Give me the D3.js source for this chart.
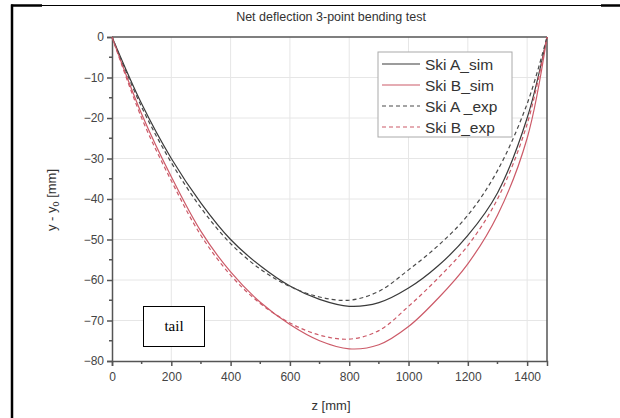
<!DOCTYPE html>
<html><head><meta charset="utf-8">
<script src="https://cdn.jsdelivr.net/npm/d3@7"></script>
<style>
html,body{margin:0;padding:0;background:#fff;}
svg{display:block;font-family:"Liberation Sans",Arial,sans-serif;}
</style></head>
<body>
<svg id="chart" width="620" height="418"></svg>
<script>
// ---- data ----
const zValues   = [0,100,200,300,400,500,600,700,800,900,1000,1100,1200,1300,1400,1467];
const skiA_sim  = [0,-16.5,-30,-41,-50,-56.5,-61.5,-64.8,-66.5,-65.6,-62,-56.5,-49,-38.5,-20,0];
const skiB_sim  = [0,-19,-34.5,-48,-58,-65.5,-71,-75,-77,-76,-71.5,-64.5,-56,-44,-25,0];
const skiA_exp  = [0,-17.3,-31,-42.2,-51,-57.3,-61.6,-64.2,-65,-62.8,-57.5,-51.5,-44,-33,-16.5,0];
const skiB_exp  = [0,-20,-35.5,-49,-58.8,-65.8,-70.6,-73.6,-74.6,-72.5,-66.5,-59.5,-51.5,-40,-21.5,0];
const seriesNames = ["Ski A_sim","Ski B_sim","Ski A _exp","Ski B_exp"];
const xTicks = [0,200,400,600,800,1000,1200,1400];
const yTicks = [0,-10,-20,-30,-40,-50,-60,-70,-80];
const title = "Net deflection 3-point bending test";
const annotation = "tail";

const series = [
  {name: seriesNames[0], values: skiA_sim, color: "#3a3a3a", dash: null},
  {name: seriesNames[1], values: skiB_sim, color: "#cc5a68", dash: null},
  {name: seriesNames[2], values: skiA_exp, color: "#4a4a4a", dash: "4,3"},
  {name: seriesNames[3], values: skiB_exp, color: "#cc5a68", dash: "4,3"}
];

const svg = d3.select("#chart");

// outer frame fragments
svg.append("line").attr("x1",11).attr("x2",601).attr("y1",5.5).attr("y2",5.5).attr("stroke","#000").attr("stroke-width",1.2);
svg.append("line").attr("x1",11).attr("x2",42).attr("y1",5.5).attr("y2",5.5).attr("stroke","#000").attr("stroke-width",2.5);
svg.append("line").attr("x1",601).attr("x2",620).attr("y1",5.5).attr("y2",5.5).attr("stroke","#000").attr("stroke-width",2.5);
svg.append("line").attr("x1",12).attr("x2",12).attr("y1",4.5).attr("y2",418).attr("stroke","#000").attr("stroke-width",2.5);

const m = {left:112, right:547, top:37, bottom:361};
const x = d3.scaleLinear().domain([0,1467]).range([m.left, m.right]);
const y = d3.scaleLinear().domain([-80,0]).range([m.bottom, m.top]);

// grid
const g = svg.append("g");
g.selectAll(".vg").data(xTicks.filter(d=>d>0)).join("line")
  .attr("x1",d=>x(d)).attr("x2",d=>x(d)).attr("y1",m.top).attr("y2",m.bottom)
  .attr("stroke","#e6e6e6").attr("stroke-width",1);
g.selectAll(".hg").data(yTicks.filter(d=>d>-80 && d<0)).join("line")
  .attr("x1",m.left).attr("x2",m.right).attr("y1",d=>y(d)).attr("y2",d=>y(d))
  .attr("stroke","#e6e6e6").attr("stroke-width",1);

// frame top/right
svg.append("line").attr("x1",m.left).attr("x2",m.right).attr("y1",m.top).attr("y2",m.top).attr("stroke","#555").attr("stroke-width",1.5);
svg.append("line").attr("x1",m.right).attr("x2",m.right).attr("y1",m.top).attr("y2",m.bottom).attr("stroke","#555").attr("stroke-width",1.5);

// axes
const xAxis = d3.axisBottom(x).tickValues(xTicks).tickFormat(d3.format("d")).tickSize(5).tickPadding(6);
const yAxis = d3.axisLeft(y).tickValues(yTicks).tickFormat(d3.format("d")).tickSize(5).tickPadding(3);
const gx = svg.append("g").attr("transform",`translate(0,${m.bottom})`).call(xAxis);
const gy = svg.append("g").attr("transform",`translate(${m.left},0)`).call(yAxis);
// minor ticks
const xMinor = d3.range(100,1467,200);
const yMinor = d3.range(-75,0,10);
gx.selectAll(".minor").data(xMinor).join("line").attr("class","minor")
  .attr("x1",d=>x(d)).attr("x2",d=>x(d)).attr("y1",0).attr("y2",3).attr("stroke","#555").attr("stroke-width",1.5);
gy.selectAll(".minor").data(yMinor).join("line").attr("class","minor")
  .attr("x1",-3).attr("x2",0).attr("y1",d=>y(d)).attr("y2",d=>y(d)).attr("stroke","#555").attr("stroke-width",1.5);
[gx,gy].forEach(a=>{
  a.select(".domain").attr("stroke","#555").attr("stroke-width",1.5);
  a.selectAll(".tick line").attr("stroke","#555").attr("stroke-width",1.5);
  a.selectAll(".tick text").attr("fill","#444").style("font-size","12px").style("font-family","Liberation Sans, Arial, sans-serif");
});

// lines
const line = d3.line().x((d,i)=>x(zValues[i])).y(d=>y(d)).curve(d3.curveCatmullRom.alpha(0.5));
svg.append("g").selectAll("path").data(series).join("path")
  .attr("d",d=>line(d.values)).attr("fill","none")
  .attr("stroke",d=>d.color).attr("stroke-width",1.2)
  .attr("stroke-dasharray",d=>d.dash);

// title
svg.append("text").attr("x",331).attr("y",21).attr("text-anchor","middle")
  .attr("fill","#333").style("font-size","12.5px").text(title);

// axis labels
svg.append("text").attr("x",331).attr("y",410).attr("text-anchor","middle")
  .attr("fill","#333").style("font-size","13px").text("z [mm]");
const yl = svg.append("text").attr("transform","translate(56,200) rotate(-90)")
  .attr("text-anchor","middle").attr("fill","#333").style("font-size","13px");
yl.append("tspan").text("y - y");
yl.append("tspan").attr("dy",3).style("font-size","9px").text("0");
yl.append("tspan").attr("dy",-3).text(" [mm]");

// legend
const lg = svg.append("g");
lg.append("rect").attr("x",378).attr("y",52).attr("width",134).attr("height",85)
  .attr("fill","#fff").attr("stroke","#aaa").attr("stroke-width",1);
series.forEach((s,i)=>{
  const yy = 64 + i*21;
  lg.append("line").attr("x1",382).attr("x2",420).attr("y1",yy).attr("y2",yy)
    .attr("stroke",s.color).attr("stroke-width",1.2).attr("stroke-dasharray",s.dash);
  lg.append("text").attr("x",425).attr("y",yy+5.5).attr("fill","#333")
    .style("font-size","15.5px").text(s.name);
});

// tail annotation box
svg.append("rect").attr("x",143.5).attr("y",306.5).attr("width",61).attr("height",40)
  .attr("fill","#fff").attr("stroke","#000").attr("stroke-width",1);
svg.append("text").attr("x",174).attr("y",331).attr("text-anchor","middle")
  .style("font-family","Liberation Serif, Times New Roman, serif").style("font-size","15px")
  .attr("fill","#000").text(annotation);
</script>
</body></html>
